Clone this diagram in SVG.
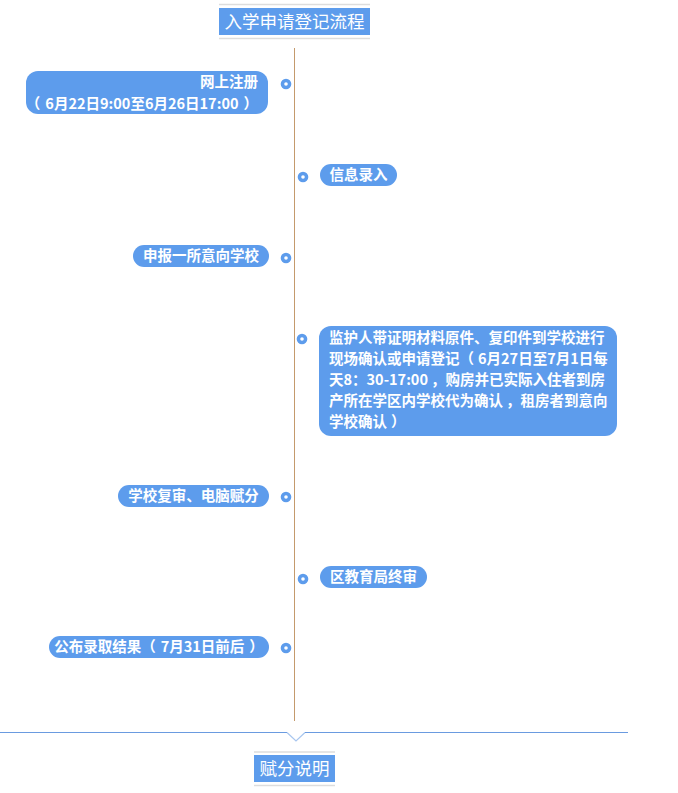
<svg xmlns="http://www.w3.org/2000/svg" width="678" height="793" viewBox="0 0 678 793">
<style>
.box{fill:#5d9cec}
.lbl{font-family:"Noto Sans CJK SC","Microsoft YaHei",sans-serif;font-size:14.5px;font-weight:bold;fill:#ffffff}
.ttl{font-family:"Noto Sans CJK SC","Microsoft YaHei",sans-serif;font-size:17.5px;fill:#ffffff}
.rule{stroke:#dddddd;stroke-width:1.5}
.dot{fill:#5d9cec}
.dotc{fill:#ffffff}
</style>
<rect width="678" height="793" fill="#ffffff"/>
<g id="title">
<line class="rule" x1="219" y1="4.5" x2="370" y2="4.5"/>
<rect class="box" x="219" y="8" width="151" height="27"/>
<text class="ttl" x="294.5" y="27.5" text-anchor="middle">入学申请登记流程</text>
<line class="rule" x1="219" y1="38.5" x2="370" y2="38.5"/>
</g>
<g id="connectors">
<line x1="294.5" y1="48" x2="294.5" y2="721" stroke="#c49a6c" stroke-width="1"/>
<polyline points="0,732.5 287,732.5" fill="none" stroke="#6a9be0" stroke-width="1.2"/>
<polyline points="287,732.5 296,741 305,732.5" fill="none" stroke="#a8c6ef" stroke-width="1.2"/>
<polyline points="305,732.5 628,732.5" fill="none" stroke="#6a9be0" stroke-width="1.2"/>
</g>
<g id="n1">
<rect class="box" x="26" y="71" width="242" height="43" rx="12"/>
<text class="lbl" x="258" y="87" text-anchor="end">网上注册</text>
<text class="lbl" x="258" y="109" text-anchor="end">（<tspan dx="5">6月22日9:00至6月26日17:00</tspan><tspan dx="5">）</tspan></text>
<circle class="dot" cx="286" cy="84" r="5.3"/><circle class="dotc" cx="286" cy="84" r="1.8"/>
</g>
<g id="n2">
<rect class="box" x="320" y="164" width="77" height="22" rx="11"/>
<text class="lbl" x="358.5" y="180" text-anchor="middle">信息录入</text>
<circle class="dot" cx="303" cy="177" r="5.3"/><circle class="dotc" cx="303" cy="177" r="1.8"/>
</g>
<g id="n3">
<rect class="box" x="133" y="245" width="136" height="22" rx="11"/>
<text class="lbl" x="201" y="261" text-anchor="middle">申报一所意向学校</text>
<circle class="dot" cx="286" cy="258" r="5.3"/><circle class="dotc" cx="286" cy="258" r="1.8"/>
</g>
<g id="n4">
<rect class="box" x="319" y="326" width="298" height="110" rx="12"/>
<text class="lbl" x="329" y="343">监护人带证明材料原件、复印件到学校进行</text>
<text class="lbl" x="329" y="364">现场确认或申请登记（<tspan dx="4">6月27日至7月1日每</tspan></text>
<text class="lbl" x="329" y="385">天8：30-17:00<tspan dx="3">，</tspan>购房并已实际入住者到房</text>
<text class="lbl" x="329" y="406">产所在学区内学校代为确认<tspan dx="3">，</tspan>租房者到意向</text>
<text class="lbl" x="329" y="427">学校确认<tspan dx="4">）</tspan></text>
<circle class="dot" cx="302" cy="339" r="5.3"/><circle class="dotc" cx="302" cy="339" r="1.8"/>
</g>
<g id="n5">
<rect class="box" x="118" y="485" width="151" height="22" rx="11"/>
<text class="lbl" x="193.5" y="501" text-anchor="middle">学校复审、电脑赋分</text>
<circle class="dot" cx="286" cy="497" r="5.3"/><circle class="dotc" cx="286" cy="497" r="1.8"/>
</g>
<g id="n6">
<rect class="box" x="320" y="566" width="107" height="22" rx="11"/>
<text class="lbl" x="373.5" y="582" text-anchor="middle">区教育局终审</text>
<circle class="dot" cx="303" cy="579" r="5.3"/><circle class="dotc" cx="303" cy="579" r="1.8"/>
</g>
<g id="n7">
<rect class="box" x="49" y="636" width="220" height="22" rx="11"/>
<text class="lbl" x="159" y="652" text-anchor="middle">公布录取结果（<tspan dx="5">7月31日前后</tspan><tspan dx="5">）</tspan></text>
<circle class="dot" cx="286" cy="648" r="5.3"/><circle class="dotc" cx="286" cy="648" r="1.8"/>
</g>
<g id="subtitle">
<line class="rule" x1="254" y1="752" x2="335" y2="752"/>
<rect class="box" x="254" y="755" width="81" height="27"/>
<text class="ttl" x="294.5" y="774.5" text-anchor="middle">赋分说明</text>
<line class="rule" x1="254" y1="785.5" x2="335" y2="785.5"/>
</g>
</svg>
